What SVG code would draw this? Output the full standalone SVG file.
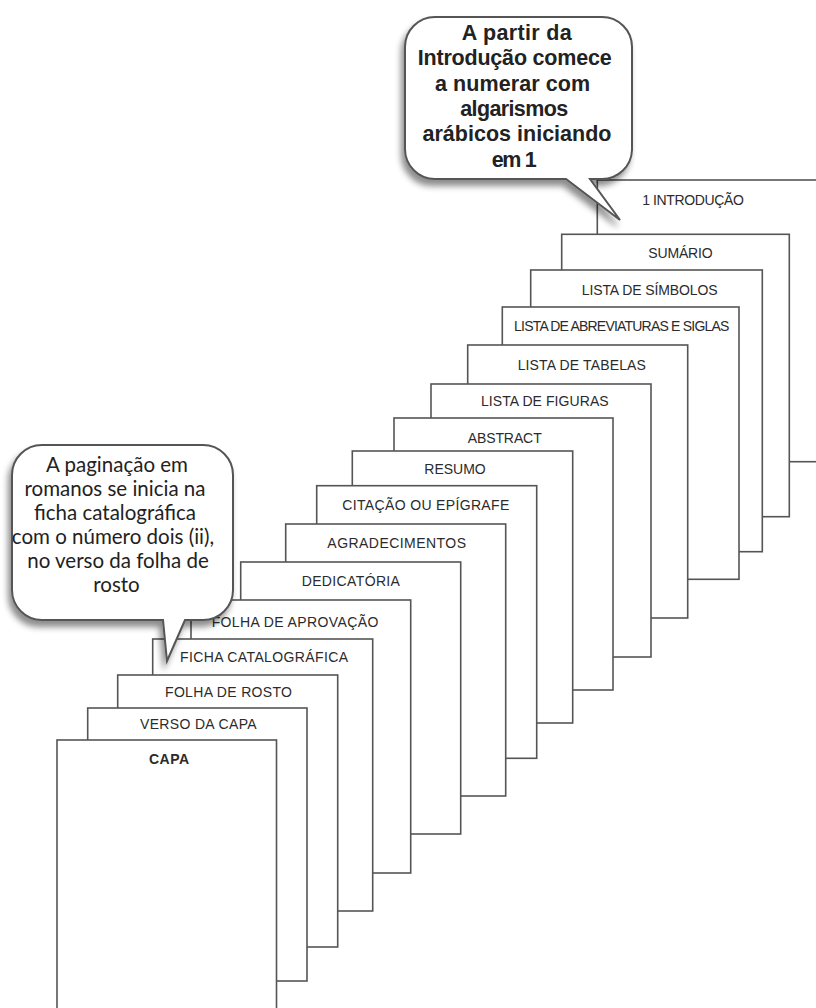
<svg xmlns="http://www.w3.org/2000/svg" width="816" height="1008" viewBox="0 0 816 1008">
<defs>
<style>
.pg{fill:#fff;stroke:#555;stroke-width:1.6}
.lb{font-family:"Liberation Sans",Arial,sans-serif;font-size:14px;fill:#2b2b2b;text-anchor:middle}
.bb{fill:#fff;stroke:#555;stroke-width:2;filter:url(#sh)}
.t1{font-family:"Liberation Sans",Arial,sans-serif;font-weight:bold;font-size:21.5px;fill:#222;text-anchor:middle}
.t2{font-family:Lato,"Open Sans",sans-serif;font-size:20.5px;fill:#222;text-anchor:middle}
</style>
<filter id="sh" x="-20%" y="-20%" width="140%" height="140%">
<feDropShadow dx="-3" dy="6" stdDeviation="3" flood-color="#000" flood-opacity="0.45"/>
</filter>
</defs>
<rect width="816" height="1008" fill="#fff"/>
<g id="intro"><rect class="pg" x="597.3" y="180" width="240" height="281.7"/><text class="lb" x="693" y="205" font-size="13.5" textLength="101.7">1 INTRODUÇÃO</text></g>
<g id="sumario"><rect class="pg" x="561.7" y="234.3" width="227.6" height="282.4"/><text class="lb" x="680.5" y="258.3" textLength="64.3">SUMÁRIO</text></g>
<g id="simbolos"><rect class="pg" x="530.7" y="270" width="231.6" height="281.7"/><text class="lb" x="649.7" y="294.5" textLength="136">LISTA DE SÍMBOLOS</text></g>
<g id="abreviaturas"><rect class="pg" x="502.3" y="307" width="236.7" height="272.3"/><text class="lb" x="621.7" y="331" font-size="12.5" textLength="215.3">LISTA DE ABREVIATURAS E SIGLAS</text></g>
<g id="tabelas"><rect class="pg" x="467.7" y="345" width="220" height="273"/><text class="lb" x="581.8" y="370" textLength="128.3">LISTA DE TABELAS</text></g>
<g id="figuras"><rect class="pg" x="431" y="384" width="220" height="273"/><text class="lb" x="544.8" y="405.5" textLength="127.7">LISTA DE FIGURAS</text></g>
<g id="abstract"><rect class="pg" x="394" y="418" width="219" height="272"/><text class="lb" x="504.7" y="442.7" textLength="74">ABSTRACT</text></g>
<g id="resumo"><rect class="pg" x="352.3" y="451" width="220.4" height="272"/><text class="lb" x="455" y="474.3" textLength="61.3">RESUMO</text></g>
<g id="citacao"><rect class="pg" x="316.7" y="485.7" width="220" height="272.6"/><text class="lb" x="425.8" y="510" textLength="167">CITAÇÃO OU EPÍGRAFE</text></g>
<g id="agradecimentos"><rect class="pg" x="285.7" y="524" width="220" height="272"/><text class="lb" x="396.7" y="548.3" textLength="138.7">AGRADECIMENTOS</text></g>
<g id="dedicatoria"><rect class="pg" x="240.7" y="562" width="220" height="272"/><text class="lb" x="350.8" y="585.7" textLength="98.3">DEDICATÓRIA</text></g>
<g id="aprovacao"><rect class="pg" x="191" y="600" width="219.7" height="273"/><text class="lb" x="295" y="627.3" textLength="166.7">FOLHA DE APROVAÇÃO</text></g>
<g id="ficha"><rect class="pg" x="152.7" y="639" width="220" height="272"/><text class="lb" x="264" y="662.3" textLength="168">FICHA CATALOGRÁFICA</text></g>
<g id="rosto"><rect class="pg" x="117.7" y="675" width="220" height="272"/><text class="lb" x="228.5" y="697.3" textLength="127">FOLHA DE ROSTO</text></g>
<g id="verso"><rect class="pg" x="87.7" y="708" width="219.3" height="273"/><text class="lb" x="198.3" y="729" textLength="116.7">VERSO DA CAPA</text></g>
<g id="capa"><rect class="pg" x="57" y="740" width="219.5" height="290"/><text class="lb" x="169" y="764.3" font-weight="bold" textLength="40">CAPA</text></g>
<g id="callout-arabicos">
<path class="bb" d="M435 17 H602 A30 30 0 0 1 632 47 V150 A30 30 0 0 1 602 179 H590 L620 220 L566 179 H435 A30 30 0 0 1 405 149 V47 A30 30 0 0 1 435 17 Z"/>
<text class="t1" x="516.7" y="40" textLength="110">A partir da</text>
<text class="t1" x="514.7" y="65.3" textLength="194">Introdução comece</text>
<text class="t1" x="512.5" y="90.7" textLength="155">a numerar com</text>
<text class="t1" x="514.2" y="116" textLength="108">algarismos</text>
<text class="t1" x="517" y="141.3" textLength="189">arábicos iniciando</text>
<text class="t1" x="514.2" y="166.7" textLength="45">em 1</text>
</g>
<g id="callout-romanos">
<path class="bb" d="M42 445 H203 A30 30 0 0 1 233 475 V590 A30 30 0 0 1 203 620 H185 L167 661 L163 620 H42 A30 30 0 0 1 12 590 V475 A30 30 0 0 1 42 445 Z"/>
<text class="t2" x="117" y="471.7">A paginação em</text>
<text class="t2" x="115" y="495.5">romanos se inicia na</text>
<text class="t2" x="115" y="519.5">ficha catalográfica</text>
<text class="t2" x="113" y="543.7">com o número dois (ii),</text>
<text class="t2" x="118" y="567.7">no verso da folha de</text>
<text class="t2" x="116.5" y="591.7">rosto</text>
</g>
</svg>
